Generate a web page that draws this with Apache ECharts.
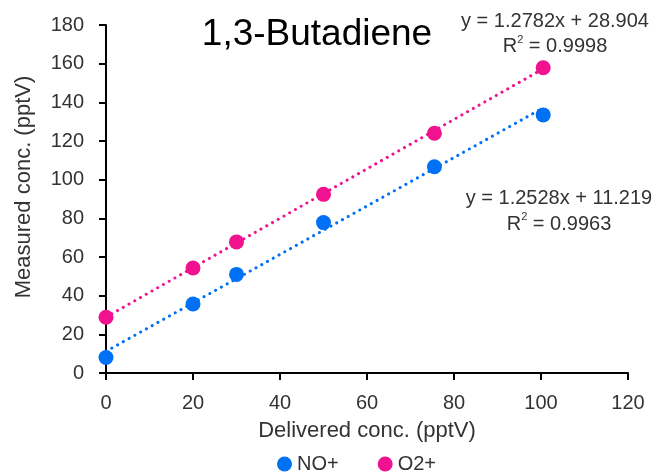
<!DOCTYPE html>
<html>
<head>
<meta charset="utf-8">
<script src="https://cdn.jsdelivr.net/npm/echarts@6/dist/echarts.min.js"></script>
<style>html,body{margin:0;padding:0;background:#fff}#c{width:662px;height:473px}</style>
</head>
<body>
<div id="c"></div>
<script>
const delivered = [0, 20, 30, 50, 75.5, 100.5];
const noPlus = [8, 35.7, 51, 77.8, 106.7, 133.5];
const o2Plus = [28.8, 54.3, 67.8, 92.4, 124, 157.9];
const fitNO = {slope: 1.2528, intercept: 11.219, r2: '0.9963'};
const fitO2 = {slope: 1.2782, intercept: 28.904, r2: '0.9998'};
const xTicks = [0, 20, 40, 60, 80, 100, 120];
const yTicks = [0, 20, 40, 60, 80, 100, 120, 140, 160, 180];

const blue = '#0070F5';
const pink = '#F0128E';
const xMax = delivered[delivered.length - 1];

function pairs(xs, ys){ return xs.map((x,i)=>[x, ys[i]]); }
function trend(f){ return [[0, f.intercept], [xMax, f.slope*xMax + f.intercept]]; }

const chart = echarts.init(document.getElementById('c'));
const font = 'Liberation Sans, Arial, sans-serif';
const eqRich = {
  b: {fontSize: 20, fontFamily: font, color: '#333'},
  s: {fontSize: 11, fontFamily: font, verticalAlign: 'top', color: '#333', padding: [0, 0, 8, 0]}
};
chart.setOption({
  animation: false,
  backgroundColor: '#fff',
  grid: {left: 106, right: 34, top: 25, bottom: 100},
  title: {
    text: '1,3-Butadiene', left: 312, top: 11, textAlign: 'center',
    textStyle: {fontFamily: font, fontSize: 37, fontWeight: 'normal', color: '#000'}
  },
  legend: {
    top: 454, left: 277, itemGap: 39, itemWidth: 15, itemHeight: 15, padding: 0,
    data: [{name: 'NO+', icon: 'circle'}, {name: 'O2+', icon: 'circle'}],
    textStyle: {fontFamily: font, fontSize: 20, color: '#333'}
  },
  xAxis: {
    type: 'value', min: xTicks[0], max: xTicks[xTicks.length-1], interval: 20,
    name: 'Delivered conc. (pptV)', nameLocation: 'middle', nameGap: 47,
    nameTextStyle: {fontFamily: font, fontSize: 22, color: '#333'},
    axisLine: {lineStyle: {color: '#000', width: 2}},
    axisTick: {show: true, length: 7, lineStyle: {color: '#000', width: 2}},
    axisLabel: {fontFamily: font, fontSize: 20, color: '#333', margin: 20},
    splitLine: {show: false}
  },
  yAxis: {
    type: 'value', min: yTicks[0], max: yTicks[yTicks.length-1], interval: 20,
    name: 'Measured conc. (pptV)', nameLocation: 'middle', nameGap: 71,
    nameTextStyle: {fontFamily: font, fontSize: 22, color: '#333', padding: [0, 0, 0, 24]},
    axisLine: {show: true, lineStyle: {color: '#000', width: 2}},
    axisTick: {show: true, length: 7, lineStyle: {color: '#000', width: 2}},
    axisLabel: {fontFamily: font, fontSize: 20, color: '#333', margin: 22},
    splitLine: {show: false}
  },
  series: [
    {name: 'NO+ trend', type: 'line', data: trend(fitNO), symbol: 'none', silent: true,
     lineStyle: {color: blue, width: 3, type: [0.1, 6.5], cap: 'round'}, z: 1},
    {name: 'O2+ trend', type: 'line', data: trend(fitO2), symbol: 'none', silent: true,
     lineStyle: {color: pink, width: 3, type: [0.1, 6.5], cap: 'round'}, z: 1},
    {name: 'NO+', type: 'scatter', data: pairs(delivered, noPlus), symbolSize: 15,
     itemStyle: {color: blue, opacity: 1}, z: 3},
    {name: 'O2+', type: 'scatter', data: pairs(delivered, o2Plus), symbolSize: 15,
     itemStyle: {color: pink, opacity: 1}, z: 3}
  ],
  graphic: [
    {type: 'text', x: 555, y: 34, style: {
      text: 'y = ' + fitO2.slope + 'x + ' + fitO2.intercept + '\n{b|R}{s|2}{b| = ' + fitO2.r2 + '}',
      align: 'center', verticalAlign: 'middle', font: '20px ' + font, fill: '#333', lineHeight: 25, rich: eqRich
    }},
    {type: 'text', x: 559, y: 211, style: {
      text: 'y = ' + fitNO.slope + 'x + ' + fitNO.intercept + '\n{b|R}{s|2}{b| = ' + fitNO.r2 + '}',
      align: 'center', verticalAlign: 'middle', font: '20px ' + font, fill: '#333', lineHeight: 26, rich: eqRich
    }}
  ]
});
</script>
</body>
</html>
